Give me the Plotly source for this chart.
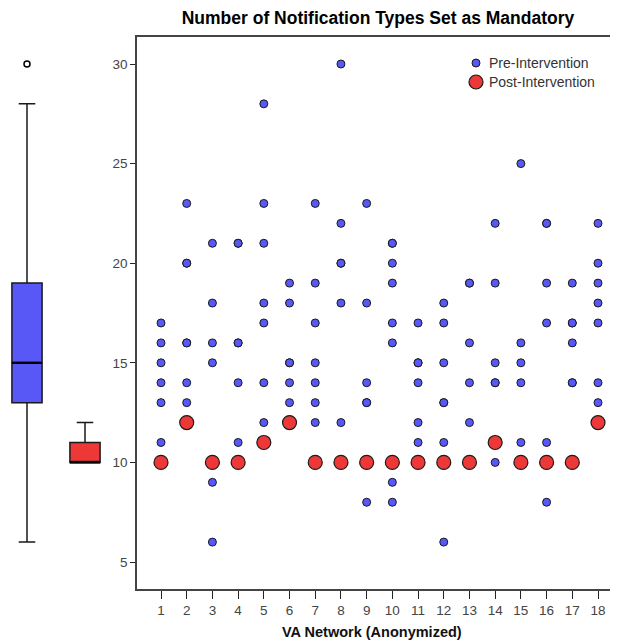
import plotly.graph_objects as go

# ---------------- data ----------------
networks = list(range(1, 19))
pre_values = [
    [17, 16, 15, 14, 13, 11],
    [23, 20, 20, 16, 16, 14, 13],
    [21, 18, 16, 15, 9, 6],
    [21, 21, 16, 16, 14, 11],
    [28, 23, 21, 18, 17, 14, 12],
    [19, 18, 15, 15, 14, 13],
    [23, 19, 17, 15, 14, 13, 12],
    [30, 22, 20, 20, 18, 12],
    [23, 18, 14, 13, 13, 8],
    [21, 21, 20, 19, 17, 16, 9, 8],
    [17, 15, 15, 14, 12, 11],
    [18, 17, 15, 13, 13, 11, 6],
    [19, 19, 16, 14, 12],
    [22, 19, 15, 14, 14, 10],
    [25, 16, 15, 14, 11],
    [22, 22, 19, 17, 11, 8],
    [19, 17, 17, 16, 14, 14],
    [22, 20, 19, 18, 17, 14, 13],
]
post_values = [10, 12, 10, 10, 11, 12, 10, 10, 10, 10, 10, 10, 10, 11, 10, 10, 10, 12]

# box-plot summaries: [lower whisker, Q1, median, Q3, upper whisker]
pre_box = [6, 13, 15, 19, 28]
pre_outliers = [30]
post_box = [10, 10, 10, 11, 12]

series_names = ["Pre-Intervention", "Post-Intervention"]
title_text = "Number of Notification Types Set as Mandatory"
x_title = "VA Network (Anonymized)"
y_ticks = [5, 10, 15, 20, 25, 30]

# ---------------- styling ----------------
BLUE = "#5858F6"
RED = "#EE3838"
EDGE = "#1a1a1a"
FONT = "Liberation Sans, Arial, sans-serif"
OFF = 8                      # page body margin of the html page
W, H = 618 - OFF, 641 - OFF


def px(v):
    return v - OFF


pre_x, pre_y = [], []
for n, vals in zip(networks, pre_values):
    for v in vals:
        pre_x.append(n)
        pre_y.append(v)

fig = go.Figure()

# main scatter
fig.add_trace(go.Scatter(
    x=pre_x, y=pre_y, mode="markers", name=series_names[0],
    marker=dict(color=BLUE, size=8, line=dict(color=EDGE, width=1)),
    xaxis="x", yaxis="y", showlegend=False,
))
fig.add_trace(go.Scatter(
    x=networks, y=post_values, mode="markers", name=series_names[1],
    marker=dict(color=RED, size=14, line=dict(color=EDGE, width=1.2)),
    xaxis="x", yaxis="y", showlegend=False,
))

# box plots in the left panel
for pos, stats, col in [(0, pre_box, BLUE), (1, post_box, RED)]:
    fig.add_trace(go.Box(
        x=[pos], lowerfence=[stats[0]], q1=[stats[1]], median=[stats[2]],
        q3=[stats[3]], upperfence=[stats[4]],
        fillcolor=col, line=dict(color="#1a1a1a", width=1.5),
        width=0.52, whiskerwidth=0.55, boxpoints=False,
        showlegend=False, hoverinfo="skip",
        xaxis="x2", yaxis="y",
    ))
    fig.add_trace(go.Scatter(
        x=[pos - 0.26, pos + 0.26], y=[stats[2], stats[2]], mode="lines",
        line=dict(color="black", width=2.4), showlegend=False,
        hoverinfo="skip", xaxis="x2", yaxis="y",
    ))

fig.add_trace(go.Scatter(
    x=[0] * len(pre_outliers), y=pre_outliers, mode="markers",
    marker=dict(symbol="circle-open", size=6, color="black", line=dict(width=1.5)),
    showlegend=False, hoverinfo="skip", xaxis="x2", yaxis="y",
))

# geometry (reference pixels -> paper)
left_px, right_px = px(137), px(617)
top_px, bottom_px = px(37), px(589)
x1_px, x18_px = px(161), px(598)
ppu = (x18_px - x1_px) / 17.0
xr = [1 - (x1_px - left_px) / ppu, 18 + (right_px - x18_px) / ppu]
y30_px, y5_px = px(64), px(562)
ppy = (y5_px - y30_px) / 25.0
yr = [5 - (bottom_px - y5_px) / ppy, 30 + (y30_px - top_px) / ppy]

bp_c0, bp_step, bp_right = px(27), 58, px(130)
x2r = [(0 - bp_c0) / bp_step, (bp_right - bp_c0) / bp_step]

# manual legend (overlay axis in pixel units)
leg_x = px(476)
leg_rows = [px(63), px(82)]
leg_text_x = px(487)
for name, row, col, size in [(series_names[0], leg_rows[0], BLUE, 8),
                             (series_names[1], leg_rows[1], RED, 14)]:
    fig.add_trace(go.Scatter(
        x=[leg_x], y=[row], mode="markers",
        marker=dict(color=col, size=size, line=dict(color=EDGE, width=1 if size < 10 else 1.2)),
        showlegend=False, hoverinfo="skip", xaxis="x3", yaxis="y3",
    ))

annotations = [
    dict(text=name, x=leg_text_x / W, y=1 - row / H, xref="paper", yref="paper",
         xanchor="left", yanchor="middle", showarrow=False,
         font=dict(family=FONT, size=14, color="#333333"))
    for name, row in zip(series_names, leg_rows)
]
annotations.append(dict(
    text="<b>" + x_title + "</b>", x=px(372) / W, y=1 - px(632) / H,
    xref="paper", yref="paper", xanchor="center", yanchor="middle",
    showarrow=False, font=dict(family=FONT, size=14.5, color="#111111")))

fig.update_layout(
    width=W, height=H,
    margin=dict(l=0, r=0, t=0, b=0),
    paper_bgcolor="white", plot_bgcolor="rgba(0,0,0,0)",
    font=dict(family=FONT, size=12, color="#333333"),
    title=dict(text="<b>" + title_text + "</b>", x=px(378) / W, xanchor="center",
               y=1 - px(18) / H, yanchor="middle", yref="container",
               font=dict(family=FONT, size=17.5, color="black")),
    xaxis=dict(
        domain=[left_px / W, right_px / W], range=xr,
        tickmode="array", tickvals=networks, ticktext=[str(n) for n in networks],
        ticks="outside", ticklen=8, tickwidth=1.2, tickcolor="#222222",
        showline=True, linecolor="#444444", linewidth=1.5, mirror=True,
        showgrid=False, zeroline=False,
        tickfont=dict(family=FONT, size=13.5, color="#444444"),
        anchor="y",
    ),
    yaxis=dict(
        domain=[(H - bottom_px) / H, (H - top_px) / H], range=yr,
        tickmode="array", tickvals=y_ticks,
        ticks="outside", ticklen=5, tickwidth=1.2, tickcolor="#222222",
        showline=True, linecolor="#444444", linewidth=1.5, mirror=True,
        showgrid=False, zeroline=False,
        tickfont=dict(family=FONT, size=13.5, color="#444444"),
        anchor="x",
    ),
    xaxis2=dict(domain=[0, bp_right / W], range=x2r, visible=False,
                anchor="y", showgrid=False, zeroline=False),
    xaxis3=dict(domain=[0, 1], range=[0, W], visible=False, anchor="y3",
                fixedrange=True),
    yaxis3=dict(domain=[0, 1], range=[H, 0], visible=False, anchor="x3",
                fixedrange=True),
    annotations=annotations,
    showlegend=False,
)

fig.write_html("out.html")
